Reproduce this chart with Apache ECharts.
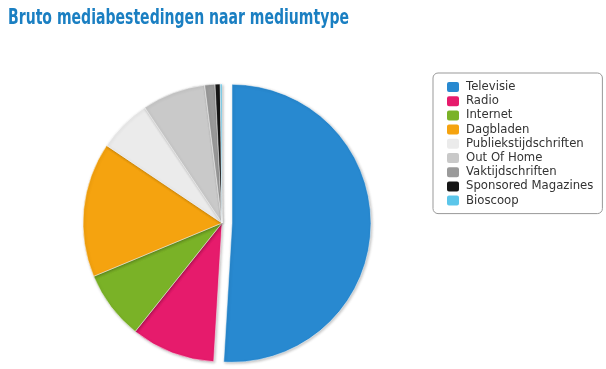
<!DOCTYPE html>
<html><head><meta charset="utf-8">
<script src="https://cdn.jsdelivr.net/npm/echarts@6/dist/echarts.min.js"></script>
<style>html,body{margin:0;padding:0;background:#fff}#c{width:606px;height:369px}</style>
</head><body><div id="c"></div>
<script>
var titleText = 'Bruto mediabestedingen naar mediumtype';
var categories = ['Televisie','Radio','Internet','Dagbladen','Publiekstijdschriften','Out Of Home','Vaktijdschriften','Sponsored Magazines','Bioscoop'];
var values = [51.0, 9.8, 8.0, 15.7, 6.2, 7.4, 1.2, 0.6, 0.2];
var colors = ['#2889d0','#e61b6c','#7ab227','#f5a30f','#ebebeb','#c9c9c9','#9a9a9a','#161616','#5cc6ea'];

var chart = echarts.init(document.getElementById('c'));
chart.setOption({
  animation: false,
  graphic: [{
    type: 'text', x: 8, y: 7, scaleX: 0.71, scaleY: 1,
    style: {text: titleText, fill: '#1a7fc2', font: 'bold 22px "DejaVu Sans Condensed", sans-serif', verticalAlign: 'top'}
  }],
  legend: {orient: 'vertical', left: 433, top: 73,
    padding: [7, 9, 6, 12], itemGap: 0.2, itemWidth: 14, itemHeight: 12,
    icon: 'roundRect', borderColor: '#999', borderWidth: 1, borderRadius: 5,
    textStyle: {fontSize: 11.7, lineHeight: 14, color: '#333', fontFamily: 'DejaVu Sans', padding: [0,0,0,1]},
    data: categories},
  series: [{
    type: 'pie', center: [222, 223], radius: 139, startAngle: 90, clockwise: true,
    selectedMode: 'single', selectedOffset: 10,
    label: {show: false}, labelLine: {show: false},
    itemStyle: {borderColor: '#fff', borderWidth: 0.5, shadowBlur: 3, shadowColor: 'rgba(0,0,0,0.25)', shadowOffsetX: 1, shadowOffsetY: 1},
    emphasis: {disabled: true},
    data: categories.map(function(n, i){
      return {name: n, value: values[i], selected: i === 0, itemStyle: {color: colors[i]}};
    })
  }]
});
</script></body></html>
